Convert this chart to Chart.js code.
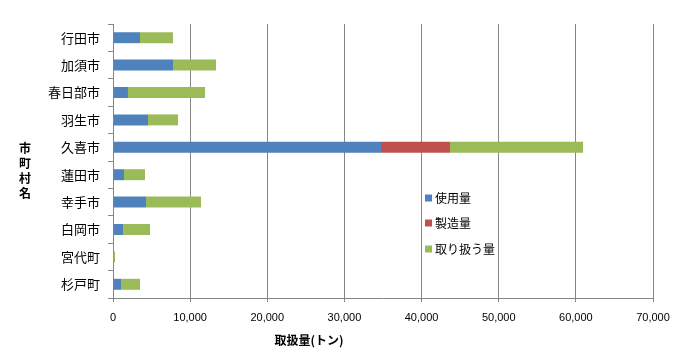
<!DOCTYPE html>
<html><head><meta charset="utf-8">
<script src="https://cdn.jsdelivr.net/npm/chart.js@4"></script>
<style>html,body{margin:0;padding:0;background:#fff}#wrap{width:683px;height:361px}</style>
</head><body><div id="wrap"><canvas id="c" width="683" height="361"></canvas></div>
<script>
const categories = ['行田市','加須市','春日部市','羽生市','久喜市','蓮田市','幸手市','白岡市','宮代町','杉戸町'];
const shiyou = [3500, 7780, 1940, 4540, 34740, 1430, 4280, 1300, 0, 1040];
const seizou = [0, 0, 0, 0, 8950, 0, 0, 0, 0, 0];
const toriatsukai = [4280, 5570, 9990, 3890, 17240, 2720, 7130, 3500, 260, 2460];
const seriesNames = ['使用量','製造量','取り扱う量'];
const xTicks = [0,10000,20000,30000,40000,50000,60000,70000];
const axisTitleX = '取扱量(トン)';
const axisTitleY = '市町村名';

const JP = '"Noto Sans CJK JP", sans-serif';
const customText = {
  id:'customText',
  afterDraw(chart){
    const ctx = chart.ctx;
    ctx.save();
    // legend
    ctx.font = '12px ' + JP;
    ctx.textBaseline = 'middle';
    const ys = [198, 223, 249];
    chart.data.datasets.forEach((ds,i)=>{
      ctx.fillStyle = ds.backgroundColor;
      ctx.fillRect(425, ys[i]-3.5, 7, 7);
      ctx.fillStyle = '#000';
      ctx.textAlign = 'left';
      ctx.fillText(ds.label, 435, ys[i]);
    });
    // axis titles
    ctx.font = 'bold 12px ' + JP;
    ctx.textAlign = 'center';
    ctx.fillText(axisTitleX, 309, 340);
    const chars = Array.from(axisTitleY);
    chars.forEach((ch,i)=>{ ctx.fillText(ch, 25, 148 + i*15); });
    ctx.restore();
  }
};

new Chart(document.getElementById('c'), {
  type:'bar',
  data:{
    labels: categories,
    datasets:[
      {label:seriesNames[0], data:shiyou, backgroundColor:'#4F81BD'},
      {label:seriesNames[1], data:seizou, backgroundColor:'#C0504D'},
      {label:seriesNames[2], data:toriatsukai, backgroundColor:'#9BBB59'}
    ]
  },
  options:{
    indexAxis:'y',
    responsive:false,
    animation:false,
    layout:{padding:{left:0,right:30,top:24,bottom:0}},
    datasets:{bar:{barPercentage:0.4, categoryPercentage:1, borderWidth:0}},
    plugins:{legend:{display:false}, tooltip:{enabled:false}},
    scales:{
      x:{
        stacked:true, min:0, max:70000,
        afterBuildTicks(s){ s.ticks = xTicks.map(v=>({value:v})); },
        afterFit(s){ s.height = 63; },
        grid:{color:'#868686', lineWidth:1, tickLength:4, drawTicks:true},
        border:{color:'#868686', width:1},
        ticks:{color:'#000', padding:9, font:{family:'"Liberation Sans", Arial, sans-serif', size:11},
          callback:(v)=>v.toLocaleString('en-US'), maxRotation:0}
      },
      y:{
        stacked:true,
        afterFit(s){ s.width = 113; },
        grid:{drawOnChartArea:false, color:'#868686', tickLength:5, offset:true},
        border:{color:'#868686', width:1},
        ticks:{color:'#000', padding:8, font:{family:JP, size:13}}
      }
    }
  },
  plugins:[customText]
});
</script></body></html>
